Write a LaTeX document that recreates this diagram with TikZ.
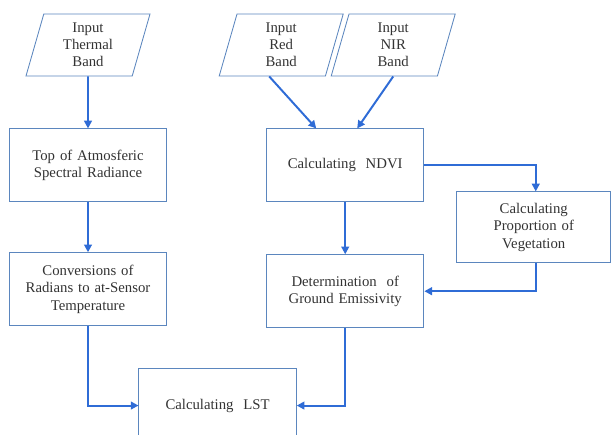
\documentclass[tikz,border=0pt]{standalone}
\usepackage{fontspec}
\setmainfont{Liberation Serif}
\newfontfamily\timesfont{Liberation Serif}
\usetikzlibrary{positioning,shapes.geometric,arrows.meta}
\definecolor{boxline}{HTML}{5B86BE}
\definecolor{flowblue}{HTML}{2F6CD6}
\definecolor{txtgray}{HTML}{333333}

\begin{document}
\begin{tikzpicture}[
    node distance=1.3cm and 2.475cm,
    inputband/.style={trapezium, trapezium left angle=69, trapezium right angle=111, trapezium stretches body, draw=boxline, line width=0.6pt, minimum width=3.1cm, minimum height=1.55cm, align=center, inner sep=1pt, text=txtgray, font=\timesfont\fontsize{10.5}{12}\selectfont},
    stepbox/.style={rectangle, draw=boxline, line width=0.6pt, minimum width=3.925cm, minimum height=1.825cm, text width=3.7cm, align=center, text=txtgray, font=\timesfont\fontsize{10.5}{12.5}\selectfont},
    arrowline/.style={-{Triangle[length=5.5pt,width=5.5pt]}, flowblue, line width=1.4pt}
]
\clip (-2.2,1.125) rectangle (13.075,-9.725);

% Nodes
\node[inputband] (thermal) {Input\\Thermal\\Band};
\node[stepbox, below=1.3cm of thermal] (topatm) {Top of Atmosferic\\Spectral Radiance};
\node[stepbox, below=1.25cm of topatm] (conv) {Conversions of\\Radians to at-Sensor\\Temperature};
\node[stepbox, right=of topatm] (ndvi) {Calculating\ \ NDVI};
\node[stepbox, below=of ndvi] (emis) {Determination\ \ of\\Ground Emissivity};
\node[stepbox, right=0.8cm of ndvi, yshift=-1.55cm, minimum width=3.85cm, text width=3.6cm, minimum height=1.775cm] (pveg) {Calculating\\Proportion of\\Vegetation};
\node[inputband, above=of ndvi, xshift=-1.6cm] (red) {Input\\Red\\Band};
\node[inputband, above=of ndvi, xshift=1.2cm] (nir) {Input\\NIR\\Band};
\node[stepbox, below=1.05cm of conv, xshift=3.24cm, minimum height=1.85cm] (lst) {Calculating\ \ LST};

% Connections
\draw[arrowline] (thermal) -- (topatm);
\draw[arrowline] (topatm) -- (conv);
\draw[arrowline] ([xshift=-0.3cm]red.south) -- ([xshift=-0.725cm]ndvi.north);
\draw[arrowline] (nir.south) -- ([xshift=0.3cm]ndvi.north);
\draw[arrowline] (ndvi) -- (emis);
\draw[arrowline] (ndvi.east) -| ([xshift=0.05cm]pveg.north);
\draw[arrowline] ([xshift=0.05cm]pveg.south) |- (emis.east);
\draw[arrowline] (conv.south) |- (lst.west);
\draw[arrowline] (emis.south) |- (lst.east);

\end{tikzpicture}
\end{document}
